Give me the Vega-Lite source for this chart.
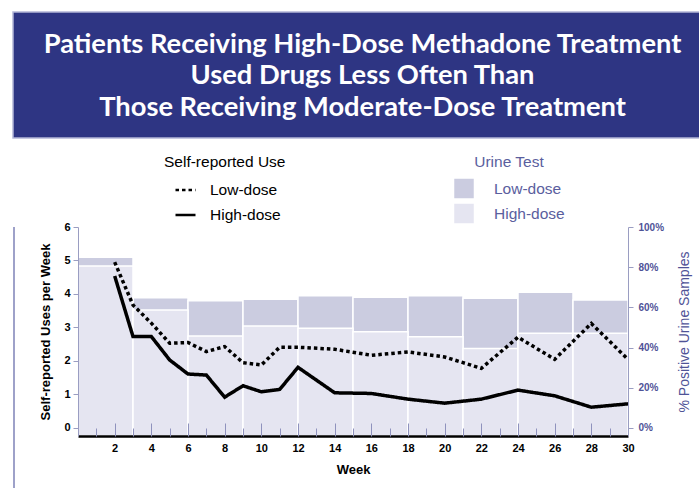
{
  "$schema": "https://vega.github.io/schema/vega-lite/v6.json",
  "background": "white",
  "padding": {"left": 12, "top": 11, "right": 0, "bottom": 0},
  "spacing": 82,
  "config": {"view": {"stroke": null}, "font": "Liberation Sans"},
  "vconcat": [
    {
      "width": 687,
      "height": 126,
      "view": {"fill": "#2e3583", "stroke": "#b4b6d8", "strokeWidth": 1.5},
      "data": {"values": [
        {"line": 1, "text": "Patients Receiving High-Dose Methadone Treatment"},
        {"line": 2, "text": "Used Drugs Less Often Than"},
        {"line": 3, "text": "Those Receiving Moderate-Dose Treatment"}
      ]},
      "mark": {"type": "text", "font": "Lato", "fontSize": 27.3, "fontWeight": "bold", "color": "white", "baseline": "middle", "align": "center", "dx": 6, "dy": 1},
      "encoding": {
        "y": {"field": "line", "type": "ordinal", "scale": {"type": "point", "padding": 1.1}, "axis": null},
        "text": {"field": "text"}
      }
    },
    {
      "hconcat": [
        {
          "width": 2,
          "height": 269,
          "view": {"fill": "#9ea1c9", "stroke": null},
          "data": {"values": [{}]},
          "mark": {"type": "rect", "color": "#9ea1c9"},
          "encoding": {}
        },
        {
          "width": 550,
          "height": 209,
          "layer": [
            {
              "data": {"values": [
                {"start": 0, "end": 3, "dose": "Low-dose", "pct": 85},
                {"start": 3, "end": 6, "dose": "Low-dose", "pct": 64.8},
                {"start": 6, "end": 9, "dose": "Low-dose", "pct": 63.3},
                {"start": 9, "end": 12, "dose": "Low-dose", "pct": 64},
                {"start": 12, "end": 15, "dose": "Low-dose", "pct": 65.8},
                {"start": 15, "end": 18, "dose": "Low-dose", "pct": 65},
                {"start": 18, "end": 21, "dose": "Low-dose", "pct": 65.8},
                {"start": 21, "end": 24, "dose": "Low-dose", "pct": 64.5},
                {"start": 24, "end": 27, "dose": "Low-dose", "pct": 67.5},
                {"start": 27, "end": 30, "dose": "Low-dose", "pct": 63.7},
                {"start": 0, "end": 3, "dose": "High-dose", "pct": 80.6},
                {"start": 3, "end": 6, "dose": "High-dose", "pct": 58.7},
                {"start": 6, "end": 9, "dose": "High-dose", "pct": 45.8},
                {"start": 9, "end": 12, "dose": "High-dose", "pct": 50.7},
                {"start": 12, "end": 15, "dose": "High-dose", "pct": 49.6},
                {"start": 15, "end": 18, "dose": "High-dose", "pct": 47.9},
                {"start": 18, "end": 21, "dose": "High-dose", "pct": 45.4},
                {"start": 21, "end": 24, "dose": "High-dose", "pct": 39.6},
                {"start": 24, "end": 27, "dose": "High-dose", "pct": 47.1},
                {"start": 27, "end": 30, "dose": "High-dose", "pct": 47.1}
              ]},
              "mark": {"type": "rect", "stroke": "white", "strokeWidth": 1.5},
              "encoding": {
                "x": {"field": "start", "type": "quantitative", "scale": {"domain": [0, 30], "nice": false},
                  "axis": {"orient": "bottom", "values": [2,4,6,8,10,12,14,16,18,20,22,24,26,28,30], "ticks": false, "domainColor": "black", "domainWidth": 2.5, "labelFontWeight": "bold", "labelFontSize": 11, "labelColor": "black", "labelPadding": 6, "labelFlush": false, "grid": false, "title": "Week", "titleFontSize": 13, "titleFontWeight": "bold", "titleColor": "black", "titlePadding": 10, "zindex": 1}},
                "x2": {"field": "end"},
                "y": {"field": "pct", "type": "quantitative", "scale": {"domain": [-4, 100], "nice": false, "zero": false},
                  "axis": {"orient": "right", "values": [0, 20, 40, 60, 80, 100], "labelExpr": "datum.value + '%'", "labelColor": "#4f5397", "labelFontWeight": "bold", "labelFontSize": 10, "labelPadding": 5, "tickSize": 5, "tickColor": "#9a9dc2", "domainColor": "#9a9dc2", "grid": false, "title": "% Positive Urine Samples", "titleAngle": 270, "titleBaseline": "top", "titleColor": "#4f5397", "titleFontSize": 14, "titleFontWeight": "normal", "titlePadding": 14, "zindex": 1}},
                "y2": {"datum": -4},
                "fill": {"field": "dose", "type": "nominal", "sort": ["Low-dose", "High-dose"], "scale": {"range": ["#cbcce0", "#e5e5f1"]},
                  "legend": {"title": "Urine Test", "orient": "none", "legendX": 441, "legendY": 143, "padding": 0, "titleAnchor": "middle", "titleColor": "#5a5e9e", "titleFontSize": 15.5, "titleFontWeight": "normal", "titlePadding": 8, "labelColor": "#5a5e9e", "labelFontSize": 15.5, "labelOffset": 20, "symbolType": "square", "symbolSize": 380, "symbolStrokeWidth": 0, "rowPadding": 5}}
              }
            },
            {
              "data": {"name": "uses"},
              "transform": [{"filter": "datum.dose === 'Low-dose'"}],
              "mark": {"type": "line", "color": "black", "strokeWidth": 3.5, "strokeCap": "butt"},
              "encoding": {
                "x": {"field": "week", "type": "quantitative", "scale": {"domain": [0, 30], "nice": false},
                  "axis": {"orient": "bottom", "values": [2,4,6,8,10,12,14,16,18,20,22,24,26,28], "offset": -13, "tickSize": 13, "tickColor": "#8f92bd", "tickWidth": 1, "labels": false, "domain": false, "grid": false, "title": null, "zindex": 1}},
                "y": {"field": "uses", "type": "quantitative", "scale": {"domain": [-0.24, 6], "nice": false, "zero": false},
                  "axis": {"orient": "left", "values": [0, 1, 2, 3, 4, 5, 6], "labelFontWeight": "bold", "labelFontSize": 11, "labelColor": "black", "labelPadding": 3, "tickSize": 5, "tickColor": "#9a9dc2", "domainColor": "#9a9dc2", "grid": false, "title": "Self-reported Uses per Week", "titleFontSize": 13, "titleFontWeight": "bold", "titleColor": "black", "titlePadding": 11, "zindex": 1}},
                "strokeDash": {"field": "dose", "type": "nominal", "scale": {"domain": ["Low-dose", "High-dose"], "range": [[3.5, 3], [1, 0]]},
                  "legend": {"title": "Self-reported Use", "orient": "none", "legendX": 151, "legendY": 143, "padding": 0, "titleAnchor": "start", "titleColor": "black", "titleFontSize": 15.5, "titleFontWeight": "normal", "titlePadding": 8, "labelColor": "black", "labelFontSize": 15.5, "labelOffset": 13, "symbolOffset": 10, "symbolType": "stroke", "symbolSize": 400, "symbolStrokeWidth": 2.5, "symbolStrokeColor": "black", "rowPadding": 5}}
              }
            },
            {
              "data": {"name": "uses"},
              "transform": [{"filter": "datum.dose === 'High-dose'"}],
              "mark": {"type": "line", "color": "black", "strokeWidth": 3.5, "strokeCap": "butt"},
              "encoding": {
                "x": {"field": "week", "type": "quantitative", "scale": {"domain": [0, 30], "nice": false},
                  "axis": {"orient": "bottom", "values": [1,3,5,7,9,11,13,15,17,19,21,23,25,27,29], "offset": -8, "tickSize": 8, "tickColor": "#8f92bd", "tickWidth": 1, "labels": false, "domain": false, "grid": false, "title": null, "zindex": 1}},
                "y": {"field": "uses", "type": "quantitative", "scale": {"domain": [-0.24, 6], "nice": false, "zero": false}, "axis": null},
                "strokeDash": {"field": "dose", "type": "nominal", "scale": {"domain": ["Low-dose", "High-dose"], "range": [[3.5, 3], [1, 0]]}}
              }
            }
          ],
          "resolve": {"scale": {"y": "independent"}, "axis": {"x": "independent", "y": "independent"}}
        }
      ],
      "spacing": 24,
      "align": "none"
    }
  ],
  "datasets": {
    "uses": [
      {"week": 2, "dose": "Low-dose", "uses": 4.95},
      {"week": 3, "dose": "Low-dose", "uses": 3.67},
      {"week": 4, "dose": "Low-dose", "uses": 3.13},
      {"week": 5, "dose": "Low-dose", "uses": 2.53},
      {"week": 6, "dose": "Low-dose", "uses": 2.55},
      {"week": 7, "dose": "Low-dose", "uses": 2.28},
      {"week": 8, "dose": "Low-dose", "uses": 2.43},
      {"week": 9, "dose": "Low-dose", "uses": 1.95},
      {"week": 10, "dose": "Low-dose", "uses": 1.88},
      {"week": 11, "dose": "Low-dose", "uses": 2.41},
      {"week": 12, "dose": "Low-dose", "uses": 2.41},
      {"week": 14, "dose": "Low-dose", "uses": 2.35},
      {"week": 16, "dose": "Low-dose", "uses": 2.17},
      {"week": 18, "dose": "Low-dose", "uses": 2.27},
      {"week": 20, "dose": "Low-dose", "uses": 2.12},
      {"week": 22, "dose": "Low-dose", "uses": 1.78},
      {"week": 24, "dose": "Low-dose", "uses": 2.71},
      {"week": 26, "dose": "Low-dose", "uses": 2.05},
      {"week": 28, "dose": "Low-dose", "uses": 3.12},
      {"week": 30, "dose": "Low-dose", "uses": 2.05},
      {"week": 2, "dose": "High-dose", "uses": 4.54},
      {"week": 3, "dose": "High-dose", "uses": 2.73},
      {"week": 4, "dose": "High-dose", "uses": 2.73},
      {"week": 5, "dose": "High-dose", "uses": 2.03},
      {"week": 6, "dose": "High-dose", "uses": 1.61},
      {"week": 7, "dose": "High-dose", "uses": 1.58},
      {"week": 8, "dose": "High-dose", "uses": 0.92},
      {"week": 9, "dose": "High-dose", "uses": 1.26},
      {"week": 10, "dose": "High-dose", "uses": 1.08},
      {"week": 11, "dose": "High-dose", "uses": 1.15},
      {"week": 12, "dose": "High-dose", "uses": 1.81},
      {"week": 14, "dose": "High-dose", "uses": 1.05},
      {"week": 16, "dose": "High-dose", "uses": 1.03},
      {"week": 18, "dose": "High-dose", "uses": 0.86},
      {"week": 20, "dose": "High-dose", "uses": 0.74},
      {"week": 22, "dose": "High-dose", "uses": 0.86},
      {"week": 24, "dose": "High-dose", "uses": 1.13},
      {"week": 26, "dose": "High-dose", "uses": 0.96},
      {"week": 28, "dose": "High-dose", "uses": 0.62},
      {"week": 30, "dose": "High-dose", "uses": 0.72}
    ]
  }
}
